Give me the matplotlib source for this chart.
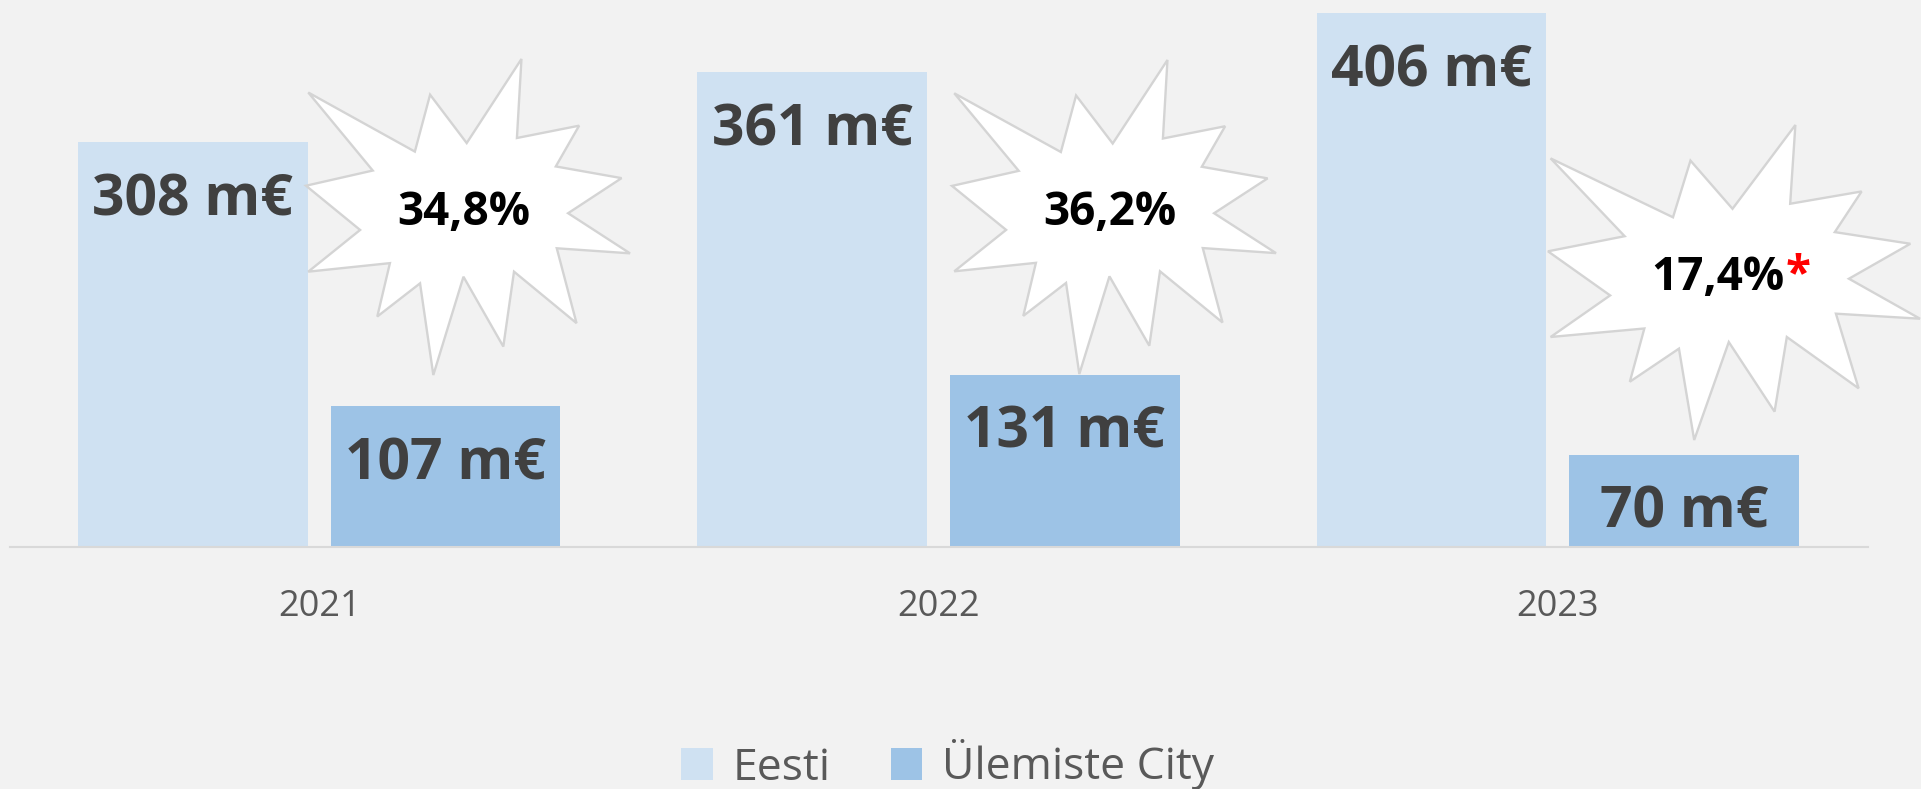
import numpy as np
import matplotlib
matplotlib.use('Agg')
import matplotlib.pyplot as plt
from matplotlib.patches import Polygon
from matplotlib.text import Annotation
from matplotlib.transforms import IdentityTransform

plt.rcParams['font.family'] = ['Open Sans', 'DejaVu Sans']

# ---- data ----
years = ['2021', '2022', '2023']
eesti = [308, 361, 406]
ulemiste = [107, 131, 70]
share_labels = ['34,8%', '36,2%', '17,4%']
share_flags = ['', '', '*']
series_names = ['Eesti', 'Ülemiste City']

# ---- layout / style ----
W, H = 1921, 789
BG = '#F2F2F2'
C_EESTI = '#CFE1F2'
C_UC = '#9DC3E6'
LABEL_C = '#404040'
AXIS_TXT = '#595959'

fig = plt.figure(figsize=(W / 100, H / 100), dpi=100, facecolor=BG)
ax = fig.add_axes([9.6 / W, (H - 547) / H, (1867.5 - 9.6) / W, 547 / H])
ax.set_facecolor(BG)

x = np.arange(len(years))
bw, off = 0.371, 0.204
b1 = ax.bar(x - off, eesti, bw, color=C_EESTI, label=series_names[0], zorder=2)
b2 = ax.bar(x + off, ulemiste, bw, color=C_UC, label=series_names[1], zorder=2)
ax.set_xlim(-0.5, 2.5)
ax.set_ylim(0, 416)
for s in ['top', 'right', 'left']:
    ax.spines[s].set_visible(False)
ax.spines['bottom'].set_color('#D9D9D9')
ax.spines['bottom'].set_linewidth(1.5)
ax.spines['bottom'].set_zorder(3)
ax.set_yticks([])
ax.set_xticks(x, years)
ax.tick_params(axis='x', length=0, pad=69 * 0.72, labelsize=26, labelcolor=AXIS_TXT)
for t in ax.get_xticklabels():
    t.set_va('baseline')

# value labels inside bar ends
for xs, vals in [(x - off, eesti), (x + off, ulemiste)]:
    for xi, v in zip(xs, vals):
        ax.annotate(f'{v} m€', xy=(xi, v), xytext=(0, -73), textcoords='offset pixels',
                    ha='center', va='baseline', fontsize=41, fontweight='bold',
                    color=LABEL_C, zorder=4)

# starburst callouts (decorative shape, normalized to its box)
SHAPE = [(0.665, 0.000), (0.651, 0.250), (0.843, 0.211), (0.771, 0.340),
         (0.974, 0.377), (0.809, 0.488), (1.000, 0.615), (0.774, 0.599),
         (0.835, 0.836), (0.642, 0.673), (0.609, 0.910), (0.486, 0.689),
         (0.393, 1.000), (0.352, 0.710), (0.220, 0.815), (0.259, 0.646),
         (0.007, 0.673), (0.167, 0.541), (0.000, 0.401), (0.206, 0.353),
         (0.007, 0.106), (0.336, 0.293), (0.383, 0.113), (0.496, 0.266)]
BOXES = [(306, 59, 324, 316), (952, 60, 324, 314), (1548, 125, 372, 315)]

for (bx, by, bwid, bh), lab, flag in zip(BOXES, share_labels, share_flags):
    verts = [(bx + u * bwid, H - (by + v * bh)) for u, v in SHAPE]
    poly = Polygon(verts, closed=True, facecolor='white', edgecolor='#D4D4D4',
                   linewidth=1.7, transform=IdentityTransform(), zorder=5)
    fig.add_artist(poly)
    cx = bx + 0.488 * bwid - (12 if flag else 0)
    cy = by + 0.525 * bh
    t = fig.text(cx / W, (H - cy) / H, lab, ha='center', va='baseline',
                 fontsize=33, fontweight='bold', color='black', zorder=6)
    if flag:
        star = Annotation(flag, xy=(1, 1), xycoords=t, xytext=(1, 2),
                          textcoords='offset pixels', ha='left', va='top',
                          fontsize=33, fontweight='bold', color='#FF0000',
                          annotation_clip=False)
        star.set_zorder(7)
        fig.add_artist(star)

leg = fig.legend(handles=[b1, b2], loc='center', bbox_to_anchor=(947.5 / W, (H - 765) / H),
                 ncol=2, frameon=False, fontsize=32, handlelength=0.7, handleheight=0.7,
                 handletextpad=0.45, columnspacing=1.35, labelcolor=AXIS_TXT,
                 borderpad=0, borderaxespad=0)

fig.savefig('out.png', dpi=100, facecolor=BG)
